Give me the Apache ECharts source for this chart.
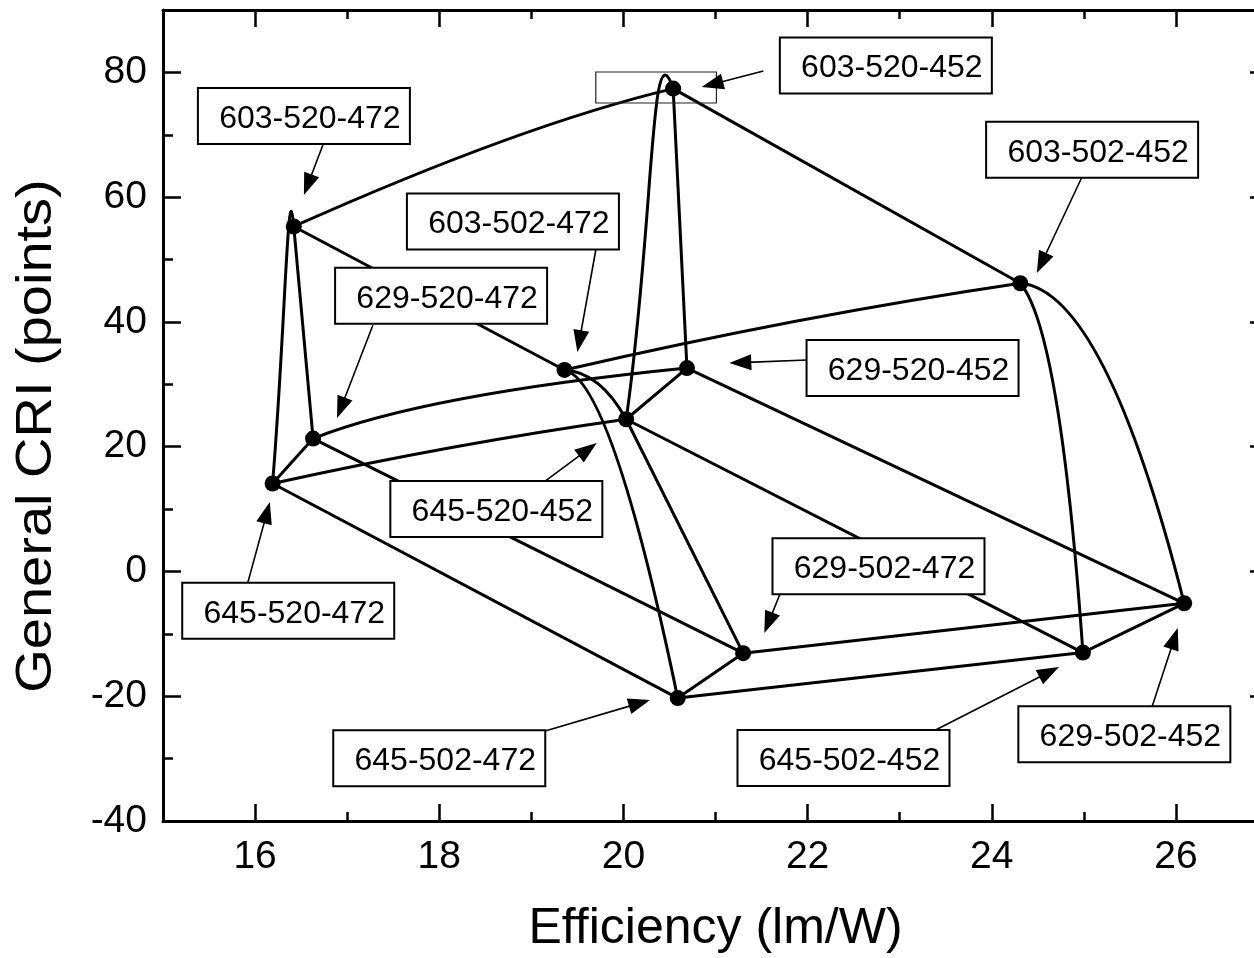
<!DOCTYPE html>
<html>
<head>
<meta charset="utf-8">
<script src="https://cdn.jsdelivr.net/npm/echarts@6/dist/echarts.min.js"></script>
<style>
  html, body { margin: 0; padding: 0; background: #fff; }
  #chart { width: 1254px; height: 958px; }
</style>
</head>
<body>
<div id="chart"></div>
<script>
// LED combos (red-green-blue peak, nm)
const names = ['603-520-452', '603-520-472', '603-502-452', '603-502-472',
  '629-520-452', '645-520-452', '629-520-472', '645-520-472',
  '629-502-472', '645-502-472', '645-502-452', '629-502-452'];
const efficiency = [20.54, 16.42, 24.31, 19.36, 20.69, 20.03, 16.63, 16.19, 21.30, 20.59, 24.99, 26.09];
const cri = [77.4, 55.3, 46.2, 32.3, 32.6, 24.4, 21.3, 14.1, -13.1, -20.3, -13.0, -5.1];

// pairs of points joined by a curve
const edges = [[1, 0], [0, 2], [2, 11], [2, 10], [10, 11], [1, 3], [3, 9], [9, 8],
  [3, 2], [3, 5], [5, 8], [7, 1], [1, 6], [7, 6], [5, 0], [0, 4], [5, 4],
  [7, 5], [6, 4], [6, 8], [7, 9], [5, 10], [4, 11], [8, 11], [9, 10]];

const xMajor = [16, 18, 20, 22, 24, 26];
const xMinor = [17, 19, 21, 23, 25];
const yMajor = [-40, -20, 0, 20, 40, 60, 80];
const yMinor = [-30, -10, 10, 30, 50, 70];

// curve shape: control point(s) along / across the chord, as fractions of its length
const edgeBend = [[0.616, -0.044], [0.5, 0], [0.125, -0.2], [0.141, -0.084], [0.5, 0],
  [0.5, 0], [0.071, -0.119], [0.5, 0], [0.518, -0.02], [0.365, -0.26], [0.5, 0],
  [0.6, 0, 1.258, -0.044], [0.5, 0], [0.5, 0], [0.6, 0, 1.192, -0.097], [0.5, 0], [0.5, 0],
  [0.519, -0.019], [0.311, -0.06], [0.5, 0], [0.5, 0], [0.5, 0], [0.5, 0], [0.5, 0], [0.5, 0]];

// label boxes (centre) and arrows (from -> tip), in axis units
const noteBox = [[22.85, 81.1], [16.53, 73.0], [25.09, 67.6], [18.80, 56.1],
  [23.14, 32.6], [18.62, 10.0], [18.02, 44.2], [16.36, -6.3],
  [22.77, 0.84], [18.00, -29.96], [22.39, -29.9], [25.44, -26.1]];
const noteArrow = [[21.52, 80.22, 20.85, 77.66], [16.74, 68.52, 16.53, 60.34],
  [24.98, 63.23, 24.49, 47.84], [19.70, 51.53, 19.50, 35.17],
  [21.99, 33.89, 21.15, 33.41], [19.15, 14.49, 19.71, 20.59],
  [17.28, 39.50, 16.89, 24.59], [15.92, -1.86, 16.16, 11.13],
  [21.70, -3.62, 21.53, -9.87], [19.15, -25.58, 20.29, -20.61],
  [23.39, -25.42, 24.73, -15.32], [25.74, -21.74, 26.02, -9.07]];
const emptyBox = [19.70, 80.06, 21.01, 75.09];

const FONT = 'Liberation Sans, Arial, Helvetica, sans-serif';
const BOX_W = 212, BOX_H = 56;

function xAxisDef(pos, ticks, len, labels, lineOn) {
  return {
    type: 'value', min: 15, max: 27, position: pos,
    axisLine: { show: lineOn, onZero: false, lineStyle: { color: '#000', width: 3 } },
    axisTick: { inside: true, length: len, customValues: ticks, lineStyle: { color: '#000', width: 2.5 } },
    axisLabel: labels ? { customValues: labels, fontSize: 39, color: '#000', fontFamily: FONT, margin: 17 } : { show: false },
    splitLine: { show: false }
  };
}
function yAxisDef(pos, ticks, len, labels, lineOn) {
  return {
    type: 'value', min: -40, max: 90, position: pos,
    axisLine: { show: lineOn, onZero: false, lineStyle: { color: '#000', width: 3 } },
    axisTick: { inside: true, length: len, customValues: ticks, lineStyle: { color: '#000', width: 2.5 } },
    axisLabel: labels ? { customValues: labels, fontSize: 39, color: '#000', fontFamily: FONT, margin: 16 } : { show: false },
    splitLine: { show: false }
  };
}

const xAxes = [
  xAxisDef('bottom', xMajor, 17, xMajor, true),
  xAxisDef('bottom', xMinor, 9, null, false),
  xAxisDef('top', xMajor, 17, null, true),
  xAxisDef('top', xMinor, 9, null, false)
];
Object.assign(xAxes[0], {
  name: 'Efficiency (lm/W)', nameLocation: 'middle', nameGap: 83,
  nameTextStyle: { fontSize: 50, color: '#000', fontFamily: FONT }
});
const yAxes = [
  yAxisDef('left', yMajor, 18, yMajor, true),
  yAxisDef('left', yMinor, 10, null, false),
  yAxisDef('right', yMajor, 18, null, true),
  yAxisDef('right', yMinor, 10, null, false)
];

function drawEdge(params, api) {
  const p0 = api.coord([api.value(0), api.value(1)]);
  const p2 = api.coord([api.value(2), api.value(3)]);
  const b = edgeBend[params.dataIndex];
  const dx = p2[0] - p0[0], dy = p2[1] - p0[1];
  const shape = {
    x1: p0[0], y1: p0[1], x2: p2[0], y2: p2[1],
    cpx1: p0[0] + b[0] * dx - b[1] * dy,
    cpy1: p0[1] + b[0] * dy + b[1] * dx
  };
  if (b.length > 2) {
    shape.cpx2 = p0[0] + b[2] * dx - b[3] * dy;
    shape.cpy2 = p0[1] + b[2] * dy + b[3] * dx;
  }
  return { type: 'bezierCurve', shape: shape, style: { stroke: '#000', lineWidth: 3, fill: 'none' } };
}

function drawNote(params, api) {
  const i = params.dataIndex;
  const c = api.coord([api.value(0), api.value(1)]);
  const a = noteArrow[i];
  const f = api.coord([a[0], a[1]]);
  const t = api.coord([a[2], a[3]]);
  const len = Math.hypot(t[0] - f[0], t[1] - f[1]);
  const ux = (t[0] - f[0]) / len, uy = (t[1] - f[1]) / len;
  const bx = t[0] - ux * 22, by = t[1] - uy * 22;
  return {
    type: 'group',
    children: [
      { type: 'line', shape: { x1: f[0], y1: f[1], x2: bx + ux * 4, y2: by + uy * 4 },
        style: { stroke: '#000', lineWidth: 1.6 } },
      { type: 'polygon', shape: { points: [t, [bx - uy * 8, by + ux * 8], [bx + uy * 8, by - ux * 8]] },
        style: { fill: '#000' } },
      { type: 'rect', shape: { x: c[0] - BOX_W / 2, y: c[1] - BOX_H / 2, width: BOX_W, height: BOX_H },
        style: { fill: '#fff', stroke: '#000', lineWidth: 2 } },
      { type: 'text', style: { text: names[i], x: c[0] + 6, y: c[1] + 3, align: 'center', verticalAlign: 'middle',
        fontSize: 32, fontFamily: FONT, fill: '#000' } }
    ]
  };
}

const chart = echarts.init(document.getElementById('chart'));
chart.setOption({
  animation: false,
  backgroundColor: '#fff',
  // the right frame sits just past the edge of the picture
  grid: { left: 163, top: 10, width: 1105, height: 811, outerBoundsMode: 'none', containLabel: false },
  xAxis: xAxes,
  yAxis: yAxes,
  graphic: [{
    type: 'text', x: 37, y: 436, rotation: Math.PI / 2, scaleX: 1.12,
    style: { text: 'General CRI (points)', fontSize: 50, fontFamily: FONT, fill: '#000',
      align: 'center', verticalAlign: 'middle' }
  }],
  series: [
    {
      type: 'custom', xAxisIndex: 0, yAxisIndex: 0, z: 2,
      encode: { x: [0, 2], y: [1, 3] },
      data: edges.map(([p, q]) => [efficiency[p], cri[p], efficiency[q], cri[q]]),
      renderItem: drawEdge
    },
    {
      type: 'scatter', xAxisIndex: 0, yAxisIndex: 0, z: 3,
      symbol: 'circle', symbolSize: 16, itemStyle: { color: '#000', opacity: 1 },
      data: efficiency.map((x, i) => [x, cri[i]])
    },
    {
      type: 'custom', xAxisIndex: 0, yAxisIndex: 0, z: 4,
      encode: { x: [0, 2], y: [1, 3] },
      data: [emptyBox],
      renderItem: (params, api) => {
        const p = api.coord([api.value(0), api.value(1)]);
        const q = api.coord([api.value(2), api.value(3)]);
        return { type: 'rect', shape: { x: p[0], y: p[1], width: q[0] - p[0], height: q[1] - p[1] },
          style: { fill: 'none', stroke: '#222', lineWidth: 1.2 } };
      }
    },
    {
      type: 'custom', xAxisIndex: 0, yAxisIndex: 0, z: 5,
      encode: { x: 0, y: 1 },
      data: noteBox,
      renderItem: drawNote
    }
  ]
});
</script>
</body>
</html>
